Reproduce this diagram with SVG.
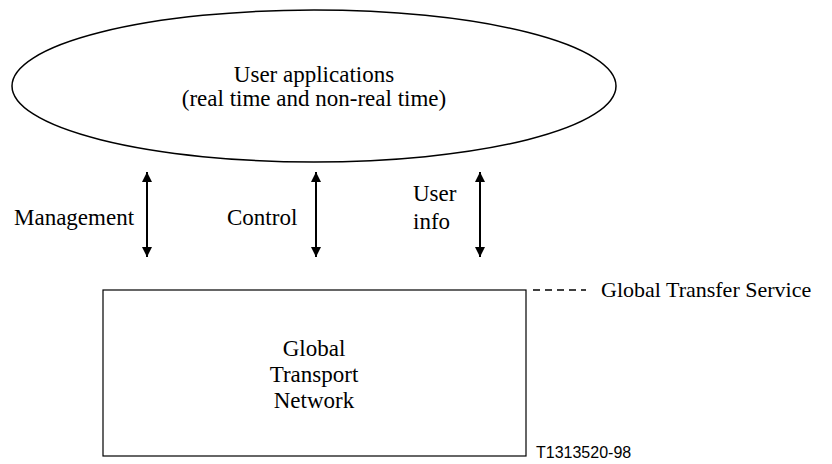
<svg xmlns="http://www.w3.org/2000/svg" width="832" height="464" viewBox="0 0 832 464">
<style>
.t{font-family:"Liberation Serif","Times New Roman",serif;font-size:23px;fill:#000}
.c{text-anchor:middle}
.s{font-family:"Liberation Sans",Arial,sans-serif;font-size:16px;fill:#000}
.ln{stroke:#000;stroke-width:2;fill:none}
</style>
<defs>
<marker id="ah" viewBox="0 0 10 10" refX="10" refY="5" markerWidth="10" markerHeight="12" markerUnits="userSpaceOnUse" orient="auto-start-reverse">
<path d="M0,0 L10,5 L0,10 z" fill="#000"/>
</marker>
</defs>
<rect width="832" height="464" fill="#fff"/>
<g id="user-apps">
<ellipse cx="314" cy="86" rx="302" ry="76" fill="none" stroke="#000" stroke-width="1.5"/>
<text class="t c" x="314" y="82">User applications</text>
<text class="t c" x="314" y="106">(real time and non-real time)</text>
</g>
<g id="transport">
<rect x="103" y="290" width="423" height="166" fill="none" stroke="#000" stroke-width="1.2"/>
<text class="t c" x="314" y="356">Global</text>
<text class="t c" x="314" y="382">Transport</text>
<text class="t c" x="314" y="408">Network</text>
</g>
<g id="labels">
<text class="t" x="14" y="225">Management</text>
<text class="t" x="227" y="225">Control</text>
<text class="t" x="413" y="201">User</text>
<text class="t" x="413" y="229">info</text>
<text class="t" x="601" y="297" style="font-size:22px">Global Transfer Service</text>
<text class="s" x="536" y="458">T1313520-98</text>
</g>
<g id="connectors">
<line class="ln" x1="147" y1="172" x2="147" y2="257" marker-start="url(#ah)" marker-end="url(#ah)"/>
<line class="ln" x1="316" y1="172" x2="316" y2="257" marker-start="url(#ah)" marker-end="url(#ah)"/>
<line class="ln" x1="480" y1="172" x2="480" y2="257" marker-start="url(#ah)" marker-end="url(#ah)"/>
<line x1="533" y1="290" x2="586" y2="290" stroke="#000" stroke-width="1.5" stroke-dasharray="7,5"/>
</g>
</svg>
